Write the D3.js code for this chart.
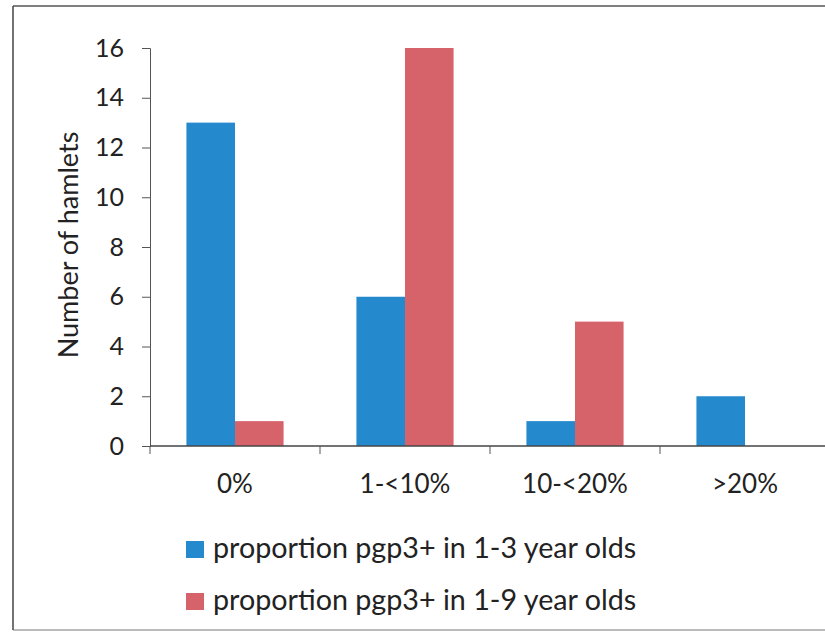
<!DOCTYPE html>
<html>
<head>
<meta charset="utf-8">
<script src="https://cdn.jsdelivr.net/npm/d3@7"></script>
<style>
  html, body { margin: 0; padding: 0; background: #fff; }
  svg { display: block; }
  text { font-family: Lato, "Open Sans", sans-serif; fill: #222; }
</style>
</head>
<body>
<script>
// Hamlet counts by pgp3+ seroprevalence band
const categories = ["0%", "1-<10%", "10-<20%", ">20%"];
const series = ["proportion pgp3+ in 1-3 year olds", "proportion pgp3+ in 1-9 year olds"];
const ages1to3 = [13, 6, 1, 2];
const ages1to9 = [1, 16, 5, 0];
const yTicks = [0, 2, 4, 6, 8, 10, 12, 14, 16];
const colors = ["#2589cd", "#d6636a"];

const W = 825, H = 632;
const svg = d3.select("body").append("svg").attr("width", W).attr("height", H);

// page frame
svg.append("line").attr("x1", 13).attr("x2", W).attr("y1", 6).attr("y2", 6)
  .attr("stroke", "#555").attr("stroke-width", 1.5);
svg.append("line").attr("x1", 13).attr("x2", 13).attr("y1", 6).attr("y2", 630)
  .attr("stroke", "#444").attr("stroke-width", 1.5);
svg.append("line").attr("x1", 13).attr("x2", W).attr("y1", 630).attr("y2", 630)
  .attr("stroke", "#777").attr("stroke-width", 1);

const x0 = d3.scaleBand().domain(categories).range([150, 830]).paddingInner(0).paddingOuter(0);
const x1 = d3.scaleBand().domain([0, 1]).range([0, x0.bandwidth()]).paddingOuter(0.75).paddingInner(0);
const y = d3.scaleLinear().domain([0, 16]).range([446, 48]);

const rows = categories.map((c, i) => ({ c, v: [ages1to3[i], ages1to9[i]] }));

const g = svg.append("g");
g.selectAll("g.cat").data(rows).join("g")
  .attr("class", "cat")
  .attr("transform", d => `translate(${x0(d.c)},0)`)
  .selectAll("rect").data(d => d.v.map((v, k) => ({ v, k })))
  .join("rect")
  .attr("x", d => x1(d.k))
  .attr("width", x1.bandwidth())
  .attr("y", d => y(d.v))
  .attr("height", d => y(0) - y(d.v))
  .attr("fill", d => colors[d.k]);

// y axis
const yAxis = g.append("g").attr("transform", "translate(150,0)")
  .call(d3.axisLeft(y).tickValues(yTicks).tickSize(8).tickPadding(18));
yAxis.select(".domain").attr("stroke", "#555");
yAxis.selectAll(".tick line").attr("stroke", "#555");
yAxis.selectAll("text").style("font-size", "25px").attr("fill", "#222");

// x axis with ticks at category boundaries
const xAxis = g.append("g").attr("transform", `translate(0,${y(0)})`);
xAxis.append("line").attr("x1", 150).attr("x2", 830).attr("stroke", "#444").attr("stroke-width", 1.4);
xAxis.selectAll("line.tk").data(categories).join("line")
  .attr("class", "tk")
  .attr("x1", d => x0(d)).attr("x2", d => x0(d))
  .attr("y1", 0).attr("y2", 8).attr("stroke", "#555");
xAxis.selectAll("text").data(categories).join("text")
  .attr("x", d => x0(d) + x0.bandwidth() / 2)
  .attr("y", 47)
  .attr("text-anchor", "middle")
  .style("font-size", "26px")
  .text(d => d);

// axis title
svg.append("text")
  .attr("transform", "translate(78,245) rotate(-90)")
  .attr("text-anchor", "middle")
  .style("font-size", "27px")
  .text("Number of hamlets");

// legend
const lg = svg.append("g");
series.forEach((s, i) => {
  const yy = 541 + i * 52;
  lg.append("rect").attr("x", 186).attr("y", yy).attr("width", 18).attr("height", 17).attr("fill", colors[i]);
  lg.append("text").attr("x", 213).attr("y", yy + 17).style("font-size", "28.7px").text(s);
});
</script>
</body>
</html>
